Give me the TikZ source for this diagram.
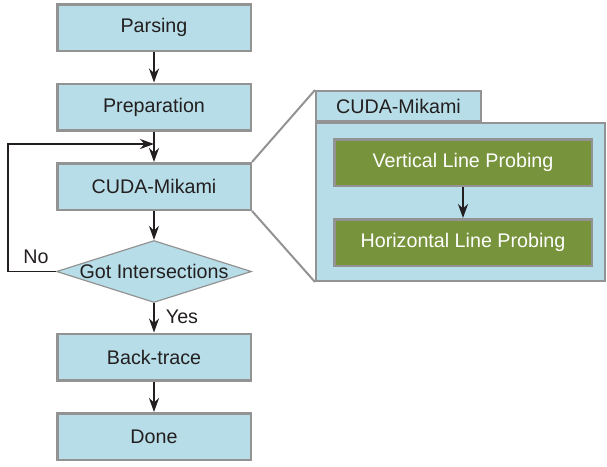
\documentclass[tikz,border=0pt]{standalone}
\usepackage{fontspec}
\setmainfont{Liberation Sans}
\usetikzlibrary{shapes.geometric,arrows.meta}
\definecolor{boxblue}{HTML}{B7DEE8}
\definecolor{boxgray}{HTML}{939393}
\definecolor{boxgreen}{HTML}{77933C}
\definecolor{inkdark}{HTML}{231F20}
\begin{document}
\begin{tikzpicture}[x=1pt,y=-1pt,font=\fontsize{19.7}{23}\selectfont,text=inkdark,box/.style={shape=rectangle,draw=boxgray,fill=boxblue,line width=2.5pt,minimum width=193.5pt,minimum height=46.5pt,inner sep=0pt},boxG/.style={box,fill=boxgreen,text=white,minimum width=257.5pt},cond/.style={shape=diamond,draw=boxgray,fill=boxblue,line width=1.2pt,minimum width=195pt,minimum height=62pt,inner sep=0pt},arr/.style={draw=inkdark,-{Stealth[length=14pt,width=10pt,inset=4.5pt]},line width=1.8pt},zoomln/.style={draw=boxgray,line width=2pt}]
\useasboundingbox (0,0) rectangle (607,466);
\def\cx{154};
\def\zx{463};

\node[box] (parse) at (\cx,27.5) {Parsing};
\node[box] (prep) at (\cx,107) {Preparation};
\node[box] (cuda) at (\cx,186.5) {CUDA-Mikami};
\node[cond] (got) at (\cx,271.5) {\makebox[0pt]{Got Intersections}};
\node[box] (back) at (\cx,357) {Back-trace};
\node[box] (done) at (\cx,436.5) {Done};

\draw[arr] (parse.south) -- (prep.north);
\draw[arr] (prep.south) -- (cuda.north);
\draw[arr] (cuda.south) -- (got.north);
\draw[arr] (got.south) -- (back.north);
\draw[arr] (back.south) -- (done.north);
\node (yes) at (182,317) {Yes};

%LOOP BACK
\coordinate (loop) at (8,144);
\draw[arr] (got.west) -| (loop) -- (loop -| cuda.north);
\node (no) at (36,257) {No};

%ZOOM PANEL
\draw[zoomln] (cuda.north east) -- (315,90);
\draw[zoomln] (cuda.south east) -- (315,282);
\node[box,line width=2pt,minimum width=289pt,minimum height=158pt] (panel) at (460.5,202) {};
\node[box,line width=2pt,minimum width=165pt,minimum height=30pt] (tab) at (398.5,106) {CUDA-Mikami};

\node[boxG] (vert) at (\zx,162.5) {Vertical Line Probing};
\node[boxG] (horz) at (\zx,242.5) {Horizontal Line Probing};
\draw[arr] (vert.south) -- (horz.north);
\end{tikzpicture}
\end{document}
